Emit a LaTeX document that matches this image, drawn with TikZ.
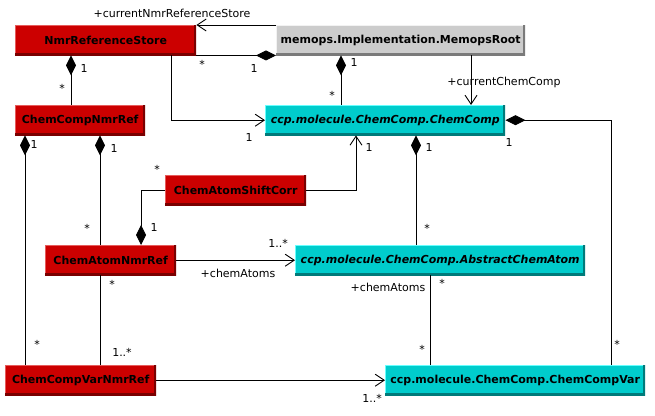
\documentclass[tikz,border=0pt]{standalone}
\usepackage{fontspec}
\setmainfont{DejaVu Sans}
\usetikzlibrary{arrows.meta}
\definecolor{umlred}{HTML}{CC0000}
\definecolor{umlredhi}{HTML}{E65C5C}
\definecolor{umlredlo}{HTML}{7A0000}
\definecolor{umlgray}{HTML}{CCCCCC}
\definecolor{umlgrayhi}{HTML}{F2F2F2}
\definecolor{umlgraylo}{HTML}{7A7A7A}
\definecolor{umlcyan}{HTML}{00CCCC}
\definecolor{umlcyanhi}{HTML}{66FFFF}
\definecolor{umlcyanlo}{HTML}{007A7A}
\tikzset{
  bevel/.style 2 args={path picture={
      \draw[line width=2pt,#1] (path picture bounding box.south west) -- (path picture bounding box.north west) -- (path picture bounding box.north east);
      \draw[line width=4pt,#2] (path picture bounding box.south west) -- (path picture bounding box.south east) -- (path picture bounding box.north east);}},
  cls/.style={anchor=north west, inner sep=0pt, minimum height=30pt, text=black,
              font=\bfseries\fontsize{11}{13}\selectfont},
  redcls/.style={cls, fill=umlred, bevel={umlredhi}{umlredlo}},
  graycls/.style={cls, fill=umlgray, bevel={umlgrayhi}{umlgraylo}},
  cyancls/.style={cls, fill=umlcyan, bevel={umlcyanhi}{umlcyanlo}},
  itcls/.style={font=\bfseries\itshape\fontsize{11}{13}\selectfont},
  lbl/.style={inner sep=0pt, font=\fontsize{11}{13}\selectfont},
  conn/.style={line width=0.9pt, black},
  comp/.style={conn, {Diamond[length=20pt,width=10pt]}-},
  assoc/.style={conn, -{Straight Barb[length=9pt,width=12pt]}},
}
\begin{document}
\begin{tikzpicture}[x=1pt,y=-1pt]
\useasboundingbox (0,0) rectangle (655,415);
\fill[white] (0,0) rectangle (655,415);
% classes
\node[redcls, minimum width=181pt] (nrs) at (15,25) {NmrReferenceStore};
\node[graycls, minimum width=249pt] (mr) at (276,25) {memops.Implementation.MemopsRoot};
\node[cyancls, itcls, minimum width=240pt] (cc) at (265,105) {ccp.molecule.ChemComp.ChemComp};
\node[redcls, minimum width=130pt] (ccnr) at (15,105) {ChemCompNmrRef};
\node[redcls, minimum width=141pt] (casc) at (165,175) {ChemAtomShiftCorr};
\node[redcls, minimum width=131pt] (canr) at (45,245) {ChemAtomNmrRef};
\node[cyancls, itcls, minimum width=290pt] (aca) at (295,245) {ccp.molecule.ChemComp.AbstractChemAtom};
\node[redcls, minimum width=151pt] (ccvnr) at (5,365) {ChemCompVarNmrRef};
\node[cyancls, minimum width=260pt] (ccv) at (385,365) {ccp.molecule.ChemComp.ChemCompVar};
% connectors
\draw[assoc] (mr.north west) -- (nrs.north east);
\draw[comp] (mr.south west) -- (nrs.south east);
\draw[assoc] ([xshift=-25pt]nrs.south east) |- (cc.west);
\draw[comp] ([xshift=65pt]mr.south west) -- ([xshift=76pt]cc.north west);
\draw[assoc] ([xshift=195pt]mr.south west) -- ([xshift=206pt]cc.north west);
\draw[comp] (cc.east) -| ([xshift=226pt]ccv.north west);
\draw[comp] ([xshift=56pt]nrs.south west) -- ([xshift=56pt]ccnr.north west);
\draw[comp] ([xshift=10pt]ccnr.south west) -- ([xshift=20pt]ccvnr.north west);
\draw[comp] ([xshift=85pt]ccnr.south west) -- ([xshift=55pt]canr.north west);
\draw[comp] ([xshift=96pt]canr.north west) |- (casc.west);
\draw[assoc] (casc.east) -| ([xshift=91pt]cc.south west);
\draw[comp] ([xshift=151pt]cc.south west) -- ([xshift=121pt]aca.north west);
\draw[assoc] (canr.east) -- (aca.west);
\draw[conn] ([xshift=55pt]canr.south west) -- ([xshift=95pt]ccvnr.north west);
\draw[conn] ([xshift=135pt]aca.south west) -- ([xshift=45pt]ccv.north west);
\draw[assoc] (ccvnr.east) -- (ccv.west);
% labels
\node[lbl] (l1) at (172,13) {+currentNmrReferenceStore};
\node[lbl] (l2a) at (202,64) {*};
\node[lbl] (l2b) at (254,68) {1};
\node[lbl] (l3) at (249,137) {1};
\node[lbl] (l4a) at (354,62) {1};
\node[lbl] (l4b) at (332,95) {*};
\node[lbl] (l5) at (504,82) {+currentChemComp};
\node[lbl] (l6a) at (509,142) {1};
\node[lbl] (l6b) at (617,344) {*};
\node[lbl] (l7a) at (84,68) {1};
\node[lbl] (l7b) at (62,88) {*};
\node[lbl] (l8a) at (34,144) {1};
\node[lbl] (l8b) at (37,344) {*};
\node[lbl] (l9a) at (114,148) {1};
\node[lbl] (l9b) at (87,228) {*};
\node[lbl] (l10a) at (154,227) {1};
\node[lbl] (l10b) at (157,169) {*};
\node[lbl] (l11) at (369,147) {1};
\node[lbl] (l12a) at (429,147) {1};
\node[lbl] (l12b) at (427,228) {*};
\node[lbl] (l13a) at (278,243) {1..*};
\node[lbl] (l13b) at (238,273) {+chemAtoms};
\node[lbl] (l14a) at (112,284) {*};
\node[lbl] (l14b) at (122,352) {1..*};
\node[lbl] (l15a) at (388,287) {+chemAtoms};
\node[lbl] (l15b) at (442,283) {*};
\node[lbl] (l15c) at (422,349) {*};
\node[lbl] (l16) at (372,398) {1..*};
\end{tikzpicture}
\end{document}
